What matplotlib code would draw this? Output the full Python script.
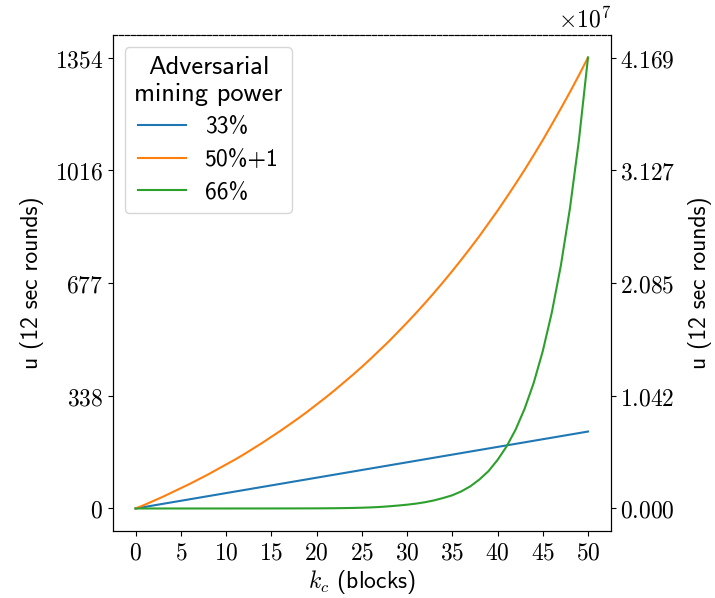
import numpy as np
import matplotlib
matplotlib.use('Agg')
import matplotlib.pyplot as plt

plt.rcParams['mathtext.fontset'] = 'cm'

# block counts
k = list(range(0, 51))

# 33% -> straight line, only the two ends are needed
k_33 = [0, 50]
u_33 = [0, 231]

# 50%+1 (left axis)
u_50 = [0, 11, 23, 35, 48, 61, 74, 88, 102, 117,
        132, 147, 163, 180, 197, 215, 233, 252, 271, 291,
        312, 333, 355, 378, 401, 425, 450, 476, 502, 530,
        558, 587, 617, 648, 680, 713, 747, 782, 818, 856,
        894, 934, 975, 1017, 1061, 1106, 1153, 1201, 1250, 1301,
        1354]

# 66% (right axis, in units of 1e7)
u_66 = [0, 0, 0, 0, 0, 0, 0, 0, 0, 0,
        0, 0.0001, 0.0001, 0.0002, 0.0002, 0.0003, 0.0004, 0.0005, 0.0007, 0.0009,
        0.0011, 0.0017, 0.0025, 0.0035, 0.005, 0.007, 0.010, 0.014, 0.020, 0.027,
        0.035, 0.045, 0.058, 0.075, 0.097, 0.122, 0.158, 0.205, 0.268, 0.345,
        0.448, 0.573, 0.729, 0.923, 1.161, 1.454, 1.811, 2.245, 2.772, 3.406,
        4.169]
u_66 = [v * 1e7 for v in u_66]

left_ticks = [0, 338, 677, 1016, 1354]
right_ticks = [0, 1.04225e7, 2.0845e7, 3.12675e7, 4.169e7]
right_labels = ['0.000', '1.042', '2.085', '3.127', '4.169']
x_ticks = list(range(0, 51, 5))

fig, ax = plt.subplots(figsize=(7.15, 5.98), dpi=100)
fig.subplots_adjust(left=0.158, right=0.854, top=0.9415, bottom=0.112)
ax2 = ax.twinx()

l1, = ax.plot(k_33, u_33, c='tab:blue', lw=1.5, label='33%')
l2, = ax.plot(k, u_50, c='tab:orange', lw=1.5, label='50%+1')
l3, = ax2.plot(k, u_66, c='tab:green', lw=1.5, label='66%')

ax.set_ylim(-67.7, 1421.7)
ax2.set_ylim(-0.05 * 4.169e7, 1.05 * 4.169e7)
ax.set_xlim(-2.5, 52.5)

ax.set_xticks(x_ticks)
ax.set_xticklabels(['$%d$' % t for t in x_ticks], fontsize=17)
ax.set_yticks(left_ticks)
ax.set_yticklabels(['$%d$' % t for t in left_ticks], fontsize=17)
ax2.set_yticks(right_ticks)
ax2.set_yticklabels(['$%s$' % t for t in right_labels], fontsize=17)
ax2.text(1.0, 1.005, r'$\times10^{7}$', transform=ax.transAxes,
         ha='right', va='bottom', fontsize=17)

ax.set_xlabel('$k_c$ (blocks)', fontfamily='cmss10', fontsize=17, labelpad=2)
ax.set_ylabel('u (12 sec rounds)', fontfamily='cmss10', fontsize=17, labelpad=8)
ax2.set_ylabel('u (12 sec rounds)', fontfamily='cmss10', fontsize=17, labelpad=9)

for a in (ax, ax2):
    a.spines['top'].set_linestyle('--')

leg = ax.legend(handles=[l1, l2, l3], loc='upper left',
                title='Adversarial\nmining power',
                prop={'family': 'cmss10', 'size': 17},
                handlelength=2.0, labelspacing=0.45)
leg.get_title().set_fontfamily('cmss10')
leg.get_title().set_fontsize(19)
leg.get_title().set_multialignment('center')

fig.savefig('out.png', dpi=100)
